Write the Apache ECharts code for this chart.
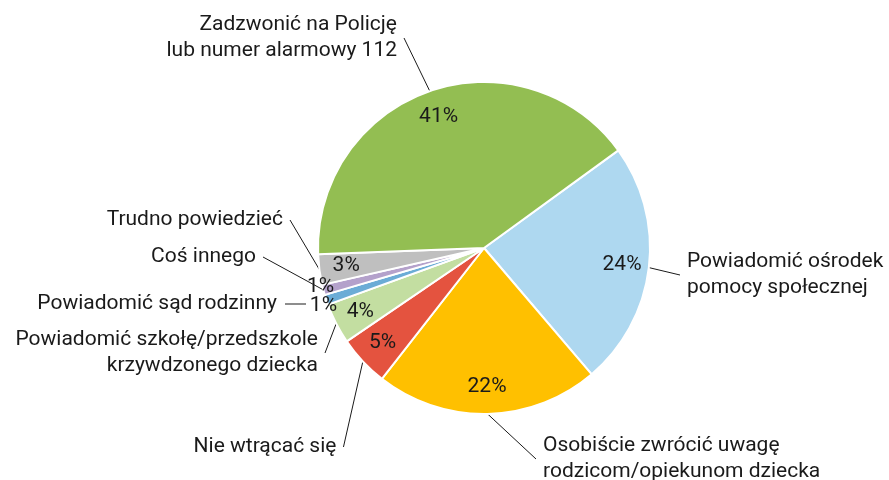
<!DOCTYPE html>
<html>
<head>
<meta charset="utf-8">
<script src="https://cdn.jsdelivr.net/npm/echarts@6/dist/echarts.min.js"></script>
<style>
  html, body { margin: 0; padding: 0; background: #fff; }
  #chart { width: 889px; height: 480px; }
</style>
</head>
<body>
<div id="chart"></div>
<script>
// kategorie (zgodnie z ruchem wskazówek zegara)
var names = [
    'Powiadomić ośrodek\npomocy społecznej',
    'Osobiście zwrócić uwagę\nrodzicom/opiekunom dziecka',
    'Nie wtrącać się',
    'Powiadomić szkołę/przedszkole\nkrzywdzonego dziecka',
    'Powiadomić sąd rodzinny',
    'Coś innego',
    'Trudno powiedzieć',
    'Zadzwonić na Policję\nlub numer alarmowy 112'
];
var values = [24, 22, 5, 4, 1, 1, 3, 41];
var colors = ['#AED8F0', '#FFC000', '#E4533F', '#C3DEA1', '#6BACD6', '#B4A1CB', '#BFBFBF', '#93BE52'];

// pozycje podpisów z nazwami (krawędź tekstu, środek w pionie)
var nameLabelPos = [
    { x: 687, y: 275, align: 'left' },
    { x: 543, y: 459, align: 'left' },
    { x: 265, y: 447, align: 'center' },
    { x: 318, y: 353, align: 'right' },
    { x: 306, y: 304, align: 'right', line: false },
    { x: 256, y: 257, align: 'right' },
    { x: 283, y: 220, align: 'right' },
    { x: 397, y: 38, align: 'right' }
];
// przesunięcie w pionie podpisów 1%
var smallLabelDy = { 4: 5, 5: -4 };

var PAD = 7;
var mychart = echarts.init(document.getElementById('chart'));
var font = 'Roboto';
var center = [484, 248];
var textColor = '#1a1a1a';

var pieData = names.map(function (n, i) {
    var item = { name: n, value: values[i], itemStyle: { color: colors[i] } };
    if (nameLabelPos[i].line === false) {
        // krótka kreska przed „1%" zamiast linii do wycinka
        item.label = { formatter: '{n|{b}}{g|}{l|}', padding: 0 };
        item.labelLine = { show: false };
    }
    return item;
});

mychart.setOption({
    animation: false,
    textStyle: { fontFamily: font },
    series: [
        {
            // wykres z nazwami
            type: 'pie',
            center: center,
            radius: 166,
            startAngle: 36,
            avoidLabelOverlap: false,
            itemStyle: { borderColor: '#fff', borderWidth: 2 },
            label: {
                show: true,
                position: 'outside',
                fontSize: 21,
                lineHeight: 26,
                color: textColor,
                fontFamily: font,
                padding: [2, PAD],
                rich: {
                    n: { fontSize: 21, color: textColor, fontFamily: font },
                    g: { width: 8, height: 1 },
                    l: { width: 21, height: 1, backgroundColor: textColor }
                }
            },
            labelLine: {
                show: true,
                length: 5,
                length2: 0,
                lineStyle: { color: textColor, width: 1 }
            },
            labelLayout: function (params) {
                var p = nameLabelPos[params.dataIndex];
                var x = p.x;
                if (p.line !== false) {
                    if (p.align === 'right') x += PAD;
                    if (p.align === 'left') x -= PAD;
                }
                return { x: x, y: p.y, align: p.align, verticalAlign: 'middle' };
            },
            emphasis: { disabled: true },
            data: pieData
        },
        {
            // procenty w środku
            type: 'pie',
            center: center,
            radius: [106, 166],
            startAngle: 36,
            silent: true,
            avoidLabelOverlap: false,
            itemStyle: { color: 'rgba(0,0,0,0)' },
            label: {
                show: true,
                position: 'inside',
                formatter: '{c}%',
                fontSize: 21,
                color: textColor,
                fontFamily: font
            },
            labelLine: { show: false },
            data: values.map(function (v, i) {
                return { name: names[i], value: v, label: { show: v > 1 } };
            })
        },
        {
            // procenty na krawędzi dla małych wycinków
            type: 'pie',
            center: center,
            radius: [150, 182],
            startAngle: 36,
            silent: true,
            avoidLabelOverlap: false,
            itemStyle: { color: 'rgba(0,0,0,0)' },
            label: {
                show: true,
                position: 'inside',
                formatter: '{c}%',
                fontSize: 21,
                color: textColor,
                fontFamily: font
            },
            labelLine: { show: false },
            labelLayout: function (params) {
                return { dy: smallLabelDy[params.dataIndex] || 0 };
            },
            data: values.map(function (v, i) {
                return { name: names[i], value: v, label: { show: v <= 1 } };
            })
        }
    ]
});
</script>
</body>
</html>
